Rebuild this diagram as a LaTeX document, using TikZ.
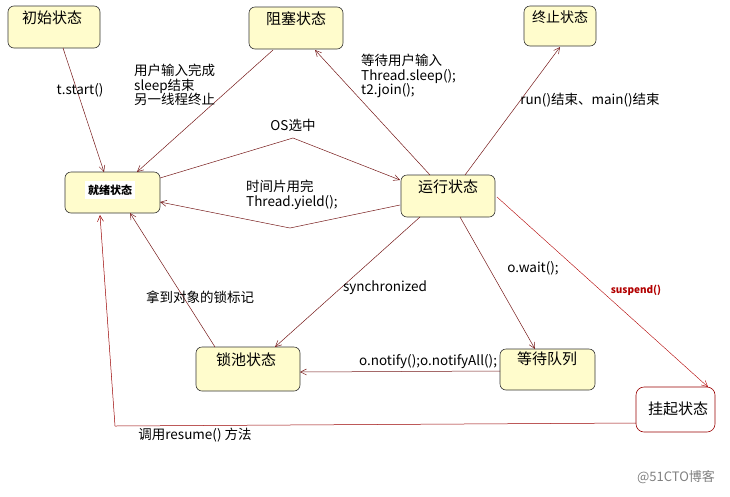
\documentclass[tikz,border=0pt]{standalone}
\usepackage{fontspec}
\setmainfont{Noto Sans CJK SC}
\usetikzlibrary{arrows.meta}
\begin{document}
\begin{tikzpicture}[x=1pt,y=-1pt,
 st/.style={draw=black!80,fill=yellow!20!white,rounded corners=6pt,line width=0.6pt},
 ar/.style={draw=red!40!black!90,line width=0.5pt,-{Straight Barb[length=6pt,width=6pt]}},
 lb/.style={font=\fontsize{13.5}{14.5}\selectfont,align=left,inner sep=0pt},
 tx/.style={font=\fontsize{15}{16}\selectfont}]
\useasboundingbox (0,0) rectangle (730,496);
\draw[st] (8,6) rectangle (100,48); \node[tx] (a) at (52,18) {初始状态};
\draw[st] (249,7) rectangle (343,49); \node[tx] (b) at (296,19) {阻塞状态};
\draw[st] (524,6) rectangle (596,46); \node[tx,font=\fontsize{14}{15}\selectfont] (c) at (560,17) {终止状态};
\draw[st] (65,172) rectangle (160,213); \node[font=\fontsize{11}{12}\selectfont\bfseries,fill=white] (r) at (110,190) {就绪状态};
\draw[st] (401,175) rectangle (495,217); \node[tx] (u) at (448,187) {运行状态};
\draw[st] (196,347) rectangle (300,391); \node[tx] (l) at (246,360) {锁池状态};
\draw[st] (500,349) rectangle (595,390); \node[tx] (w) at (547,359) {等待队列};
\draw[draw=red!60!black,fill=white,rounded corners=8pt,line width=0.6pt] (636,387) rectangle (715,432); \node[tx] (s) at (678,409) {挂起状态};

\coordinate (p1) at (63,48); \coordinate (p2) at (104,172);
\draw[ar] (p1) -- (p2);
\node[lb] (t1) at (80,90) {t.start()};
\coordinate (p3) at (273,50); \coordinate (p4) at (137,172);
\draw[ar] (p3) -- (p4);
\node[lb,anchor=north west] (t2) at (134,64) {用户输入完成\\sleep结束\\另一线程终止};
\coordinate (p5) at (160,178); \coordinate (p6) at (293,138); \coordinate (p7) at (400,180);
\draw[ar] (p5) -- (p6) -- (p7);
\node[lb] (t3) at (293,125) {OS选中};
\coordinate (p8) at (400,205); \coordinate (p9) at (290,228); \coordinate (p10) at (160,202);
\draw[ar] (p8) -- (p9) -- (p10);
\node[lb,anchor=north west] (t4) at (246,180) {时间片用完\\Thread.yield();};
\coordinate (p11) at (430,175); \coordinate (p12) at (315,50);
\draw[ar] (p11) -- (p12);
\node[lb,anchor=north west] (t5) at (361,54) {等待用户输入\\Thread.sleep();\\t2.join();};
\coordinate (p13) at (465,175); \coordinate (p14) at (560,47);
\draw[ar] (p13) -- (p14);
\node[lb] (t6) at (590,100) {run()结束、main()结束};
\coordinate (p15) at (420,217); \coordinate (p16) at (275,347);
\draw[ar] (p15) -- (p16);
\node[lb] (t7) at (385,288) {synchronized};
\coordinate (p17) at (460,217); \coordinate (p18) at (535,349);
\draw[ar] (p17) -- (p18);
\node[lb] (t8) at (533,268) {o.wait();};
\coordinate (p19) at (497,197); \coordinate (p20) at (708,387);
\draw[ar,draw=red!70!black,line width=0.4pt] (p19) -- (p20);
\node[lb,font=\fontsize{10}{11}\selectfont\bfseries,text=red!70!black] (t9) at (636,290) {suspend()};
\coordinate (p21) at (500,371); \coordinate (p22) at (300,372);
\draw[ar] (p21) -- (p22);
\node[lb] (t10) at (428,362) {o.notify();o.notifyAll();};
\coordinate (p23) at (215,347); \coordinate (p24) at (130,213);
\draw[ar] (p23) -- (p24);
\node[lb] (t11) at (200,297) {拿到对象的锁标记};
\coordinate (p25) at (636,423); \coordinate (p26) at (115,426); \coordinate (p27) at (100,215);
\draw[ar,draw=red!60!black] (p25) -- (p26) -- (p27);
\node[lb] (t12) at (195,435) {调用resume() 方法};
\node[font=\fontsize{13}{14}\selectfont,text=gray] (wm) at (676,477) {@51CTO博客};
\end{tikzpicture}
\end{document}
